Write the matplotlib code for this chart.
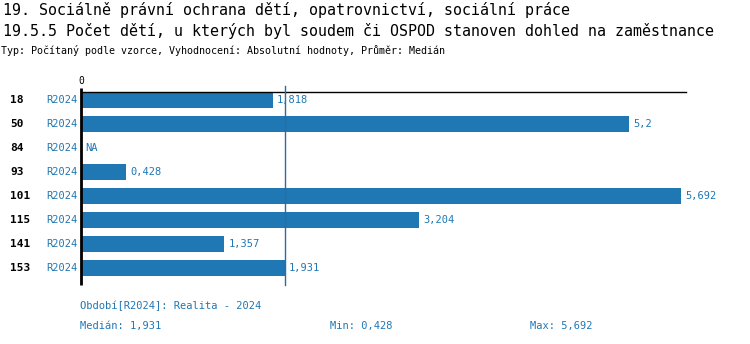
import matplotlib
matplotlib.use("Agg")
import matplotlib.pyplot as plt
import numpy as np

title1 = "19. Sociálně právní ochrana dětí, opatrovnictví, sociální práce"
title2 = "19.5.5 Počet dětí, u kterých byl soudem či OSPOD stanoven dohled na zaměstnance"
subtitle = "Typ: Počítaný podle vzorce, Vyhodnocení: Absolutní hodnoty, Průměr: Medián"
categories = ["18", "50", "84", "93", "101", "115", "141", "153"]
period = "R2024"
values = [1.818, 5.2, None, 0.428, 5.692, 3.204, 1.357, 1.931]
median = 1.931
vmin = 0.428
vmax = 5.692

def fmt(v):
    s = f"{v:.3f}".rstrip("0").rstrip(".")
    return s.replace(".", ",")

W, H = 750, 344
fig = plt.figure(figsize=(7.5, 3.44), dpi=100)
blue = "#1f77b4"
mono = ["DejaVu Sans Mono"]

x0, x1 = 81, 686
y_top, y_bot = 88, 280
ax = fig.add_axes([x0 / W, 1 - y_bot / H, (x1 - x0) / W, (y_bot - y_top) / H])
n = len(categories)
ax.set_ylim(n - 0.5, -0.5)
ax.set_xlim(0, 5.74)
ax.axis("off")

for i, v in enumerate(values):
    if v is not None:
        ax.barh(i, v, height=0.67, color=blue)
        ax.text(v + 0.04, i, fmt(v), color=blue, fontsize=7.5, family=mono, va="center", ha="left")
    else:
        ax.text(0.04, i, "NA", color=blue, fontsize=7.5, family=mono, va="center", ha="left")
    ax.text(-0.03, i, period, color=blue, fontsize=7.5, family=mono, va="center", ha="right")
    ax.text(-0.67, i, categories[i], color="black", fontsize=8, family=mono, weight="bold", va="center", ha="left")

# axes lines
ax.plot([0, 0], [-0.5, n - 0.5 + 0.2], color="black", lw=2, clip_on=False, solid_capstyle="butt")
ax.plot([0, 5.74], [-0.33, -0.33], color="black", lw=1, clip_on=False)
ax.plot([median, median], [-0.58, n - 0.5 + 0.2], color="#2d6c9c", lw=1, clip_on=False)
ax.text(0, -0.6, "0", fontsize=7, family=mono, ha="center", va="bottom")

fig.text(3 / W, 1 - 10 / H, title1, fontsize=10.8, family=mono, va="center", ha="left")
fig.text(3 / W, 1 - 31 / H, title2, fontsize=10.8, family=mono, va="center", ha="left")
fig.text(1 / W, 1 - 50 / H, subtitle, fontsize=7.2, family=mono, va="center", ha="left")

fig.text(80 / W, 1 - 306 / H, "Období[R2024]: Realita - 2024", fontsize=7.5, family=mono, color=blue, va="center")
fig.text(80 / W, 1 - 326 / H, "Medián: " + fmt(median), fontsize=7.5, family=mono, color=blue, va="center")
fig.text(330 / W, 1 - 326 / H, "Min: " + fmt(vmin), fontsize=7.5, family=mono, color=blue, va="center")
fig.text(530 / W, 1 - 326 / H, "Max: " + fmt(vmax), fontsize=7.5, family=mono, color=blue, va="center")

fig.savefig("out.png", dpi=100)
